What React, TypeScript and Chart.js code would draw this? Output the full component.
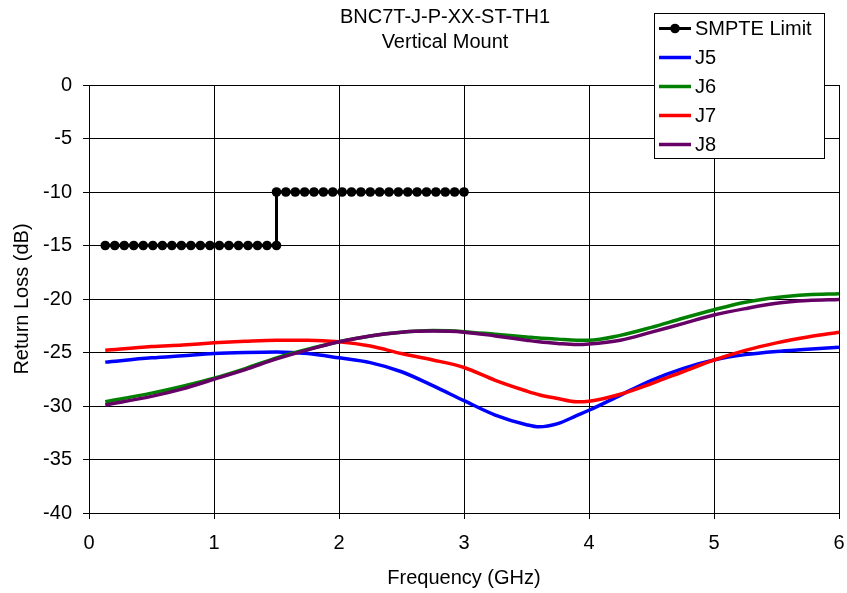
import React, { useEffect, useRef } from 'react';
import { Chart, registerables } from 'chart.js';

Chart.register(...registerables);

const FONT = '"Liberation Sans", Arial, sans-serif';

const TITLE_LINES = ['BNC7T-J-P-XX-ST-TH1', 'Vertical Mount'];
const X_TITLE = 'Frequency (GHz)';
const Y_TITLE = 'Return Loss (dB)';

// SMPTE limit
const SMPTE_FREQ = [
  0.13, 0.206, 0.282, 0.358, 0.434, 0.511, 0.587, 0.663, 0.739, 0.815, 0.891, 0.967,
  1.043, 1.119, 1.196, 1.272, 1.348, 1.424, 1.5,
  1.5, 1.575, 1.65, 1.725, 1.8, 1.875, 1.95, 2.025, 2.1, 2.175, 2.25, 2.325, 2.4,
  2.475, 2.55, 2.625, 2.7, 2.775, 2.85, 2.925, 3.0,
];
const SMPTE_VALUES = [
  -15, -15, -15, -15, -15, -15, -15, -15, -15, -15, -15, -15,
  -15, -15, -15, -15, -15, -15, -15,
  -10, -10, -10, -10, -10, -10, -10, -10, -10, -10, -10, -10, -10,
  -10, -10, -10, -10, -10, -10, -10, -10,
];

const FREQ = [
  0.13, 0.5, 0.75, 1.0, 1.25, 1.5, 1.75, 2.0, 2.25, 2.5, 2.75, 3.0, 3.25, 3.5, 3.6,
  3.75, 3.9, 4.0, 4.25, 4.5, 4.75, 5.0, 5.25, 5.5, 5.75, 6.0,
];
const J5 = [
  -25.9, -25.5, -25.3, -25.1, -25.0, -24.95, -25.1, -25.5, -25.95, -26.8, -28.1, -29.5,
  -30.85, -31.75, -31.95, -31.65, -30.9, -30.4, -29.0, -27.6, -26.5, -25.7, -25.2,
  -24.9, -24.7, -24.5,
];
const J6 = [
  -29.6, -28.8, -28.15, -27.4, -26.5, -25.5, -24.7, -24.0, -23.45, -23.1, -22.95, -23.05,
  -23.3, -23.55, -23.65, -23.75, -23.85, -23.85, -23.4, -22.65, -21.8, -21.0, -20.3,
  -19.85, -19.6, -19.5,
];
const J7 = [
  -24.8, -24.45, -24.3, -24.1, -23.95, -23.85, -23.85, -24.0, -24.4, -25.1, -25.7, -26.4,
  -27.6, -28.6, -28.95, -29.3, -29.6, -29.55, -28.9, -27.9, -26.8, -25.7, -24.8,
  -24.1, -23.55, -23.1,
];
const J8 = [
  -29.9, -29.1, -28.4, -27.5, -26.6, -25.6, -24.75, -24.0, -23.45, -23.1, -23.0, -23.1,
  -23.45, -23.85, -24.0, -24.15, -24.25, -24.2, -23.85, -23.1, -22.3, -21.5, -20.9,
  -20.4, -20.15, -20.05,
];

const X_MIN = 0, X_MAX = 6, X_STEP = 1;
const Y_MIN = -40, Y_MAX = 0, Y_STEP = 5;

const SERIES = [
  { label: 'J5', values: J5, color: '#0000FF', order: 4 },
  { label: 'J6', values: J6, color: '#008000', order: 3 },
  { label: 'J7', values: J7, color: '#FF0000', order: 2 },
  { label: 'J8', values: J8, color: '#660066', order: 1 },
];

const pts = (xs: number[], ys: number[]) => xs.map((x, i) => ({ x, y: ys[i] }));

const titleLegendPlugin = {
  id: 'titleLegend',
  afterDraw(chart: any) {
    const ctx = chart.ctx as CanvasRenderingContext2D;
    ctx.save();
    ctx.fillStyle = '#000';
    ctx.font = `20px ${FONT}`;
    ctx.textAlign = 'center';
    ctx.textBaseline = 'middle';
    ctx.fillText(TITLE_LINES[0], 445, 17);
    ctx.fillText(TITLE_LINES[1], 445, 42);

    // legend
    const lx = 654.5, ly = 13.5, lw = 170, lh = 145;
    ctx.fillStyle = '#fff';
    ctx.fillRect(lx, ly, lw, lh);
    ctx.strokeStyle = '#000';
    ctx.lineWidth = 1;
    ctx.strokeRect(lx, ly, lw, lh);
    const items = chart.data.datasets.map((d: any) => d);
    items.forEach((d: any, i: number) => {
      const y = 28.5 + i * 29;
      ctx.strokeStyle = d.borderColor;
      ctx.lineWidth = d.borderWidth;
      ctx.beginPath();
      ctx.moveTo(659, y);
      ctx.lineTo(691, y);
      ctx.stroke();
      if (d.pointRadius > 0) {
        ctx.fillStyle = d.pointBackgroundColor;
        ctx.beginPath();
        ctx.arc(675, y, d.pointRadius, 0, Math.PI * 2);
        ctx.fill();
      }
      ctx.fillStyle = '#000';
      ctx.textAlign = 'left';
      ctx.textBaseline = 'middle';
      ctx.fillText(d.label, 695, y + 1);
    });
    ctx.restore();
  },
};

export default function App() {
  const ref = useRef<HTMLCanvasElement | null>(null);
  useEffect(() => {
    if (!ref.current) return;
    const datasets: any[] = [
      {
        label: 'SMPTE Limit',
        data: pts(SMPTE_FREQ, SMPTE_VALUES),
        borderColor: '#000',
        backgroundColor: '#000',
        pointBackgroundColor: '#000',
        pointBorderColor: '#000',
        borderWidth: 3,
        pointRadius: 4.8,
        pointBorderWidth: 0,
        tension: 0,
        order: 0,
      },
      ...SERIES.map((s) => ({
        label: s.label,
        data: pts(FREQ, s.values),
        borderColor: s.color,
        backgroundColor: s.color,
        pointBackgroundColor: s.color,
        borderWidth: 3.5,
        pointRadius: 0,
        cubicInterpolationMode: 'monotone',
        order: s.order,
      })),
    ];
    const chart = new Chart(ref.current, {
      type: 'line',
      data: { datasets },
      options: {
        animation: false,
        responsive: false,
        maintainAspectRatio: false,
        layout: { padding: { top: 85, right: 8, left: 0, bottom: 0 } },
        plugins: { legend: { display: false }, tooltip: { enabled: false }, title: { display: false } },
        scales: {
          x: {
            type: 'linear',
            min: X_MIN,
            max: X_MAX,
            ticks: { stepSize: X_STEP, color: '#000', font: { family: FONT, size: 20 }, padding: 12, maxRotation: 0 },
            grid: { color: '#000', lineWidth: 1, tickLength: 6, drawTicks: true },
            border: { color: '#000', width: 1 },
            title: { display: true, text: X_TITLE, color: '#000', font: { family: FONT, size: 20 }, padding: { top: 0, bottom: 3 } },
            afterFit: (scale: any) => { scale.height = 80; scale.paddingLeft = 0; scale.paddingRight = 0; },
          },
          y: {
            type: 'linear',
            min: Y_MIN,
            max: Y_MAX,
            ticks: { stepSize: Y_STEP, color: '#000', font: { family: FONT, size: 20 }, padding: 11 },
            grid: { color: '#000', lineWidth: 1, tickLength: 6, drawTicks: true },
            border: { color: '#000', width: 1 },
            title: { display: true, text: Y_TITLE, color: '#000', font: { family: FONT, size: 20 }, padding: { top: 10, bottom: 0 } },
            afterFit: (scale: any) => { scale.width = 89; scale.paddingTop = 0; scale.paddingBottom = 0; },
          },
        },
      },
      plugins: [titleLegendPlugin],
    } as any);
    return () => chart.destroy();
  }, []);
  return (
    <div style={{ position: 'fixed', left: 0, top: 0, width: 847, height: 593, background: '#fff' }}>
      <canvas ref={ref} width={847} height={593} style={{ display: 'block', width: 847, height: 593 }} />
    </div>
  );
}
